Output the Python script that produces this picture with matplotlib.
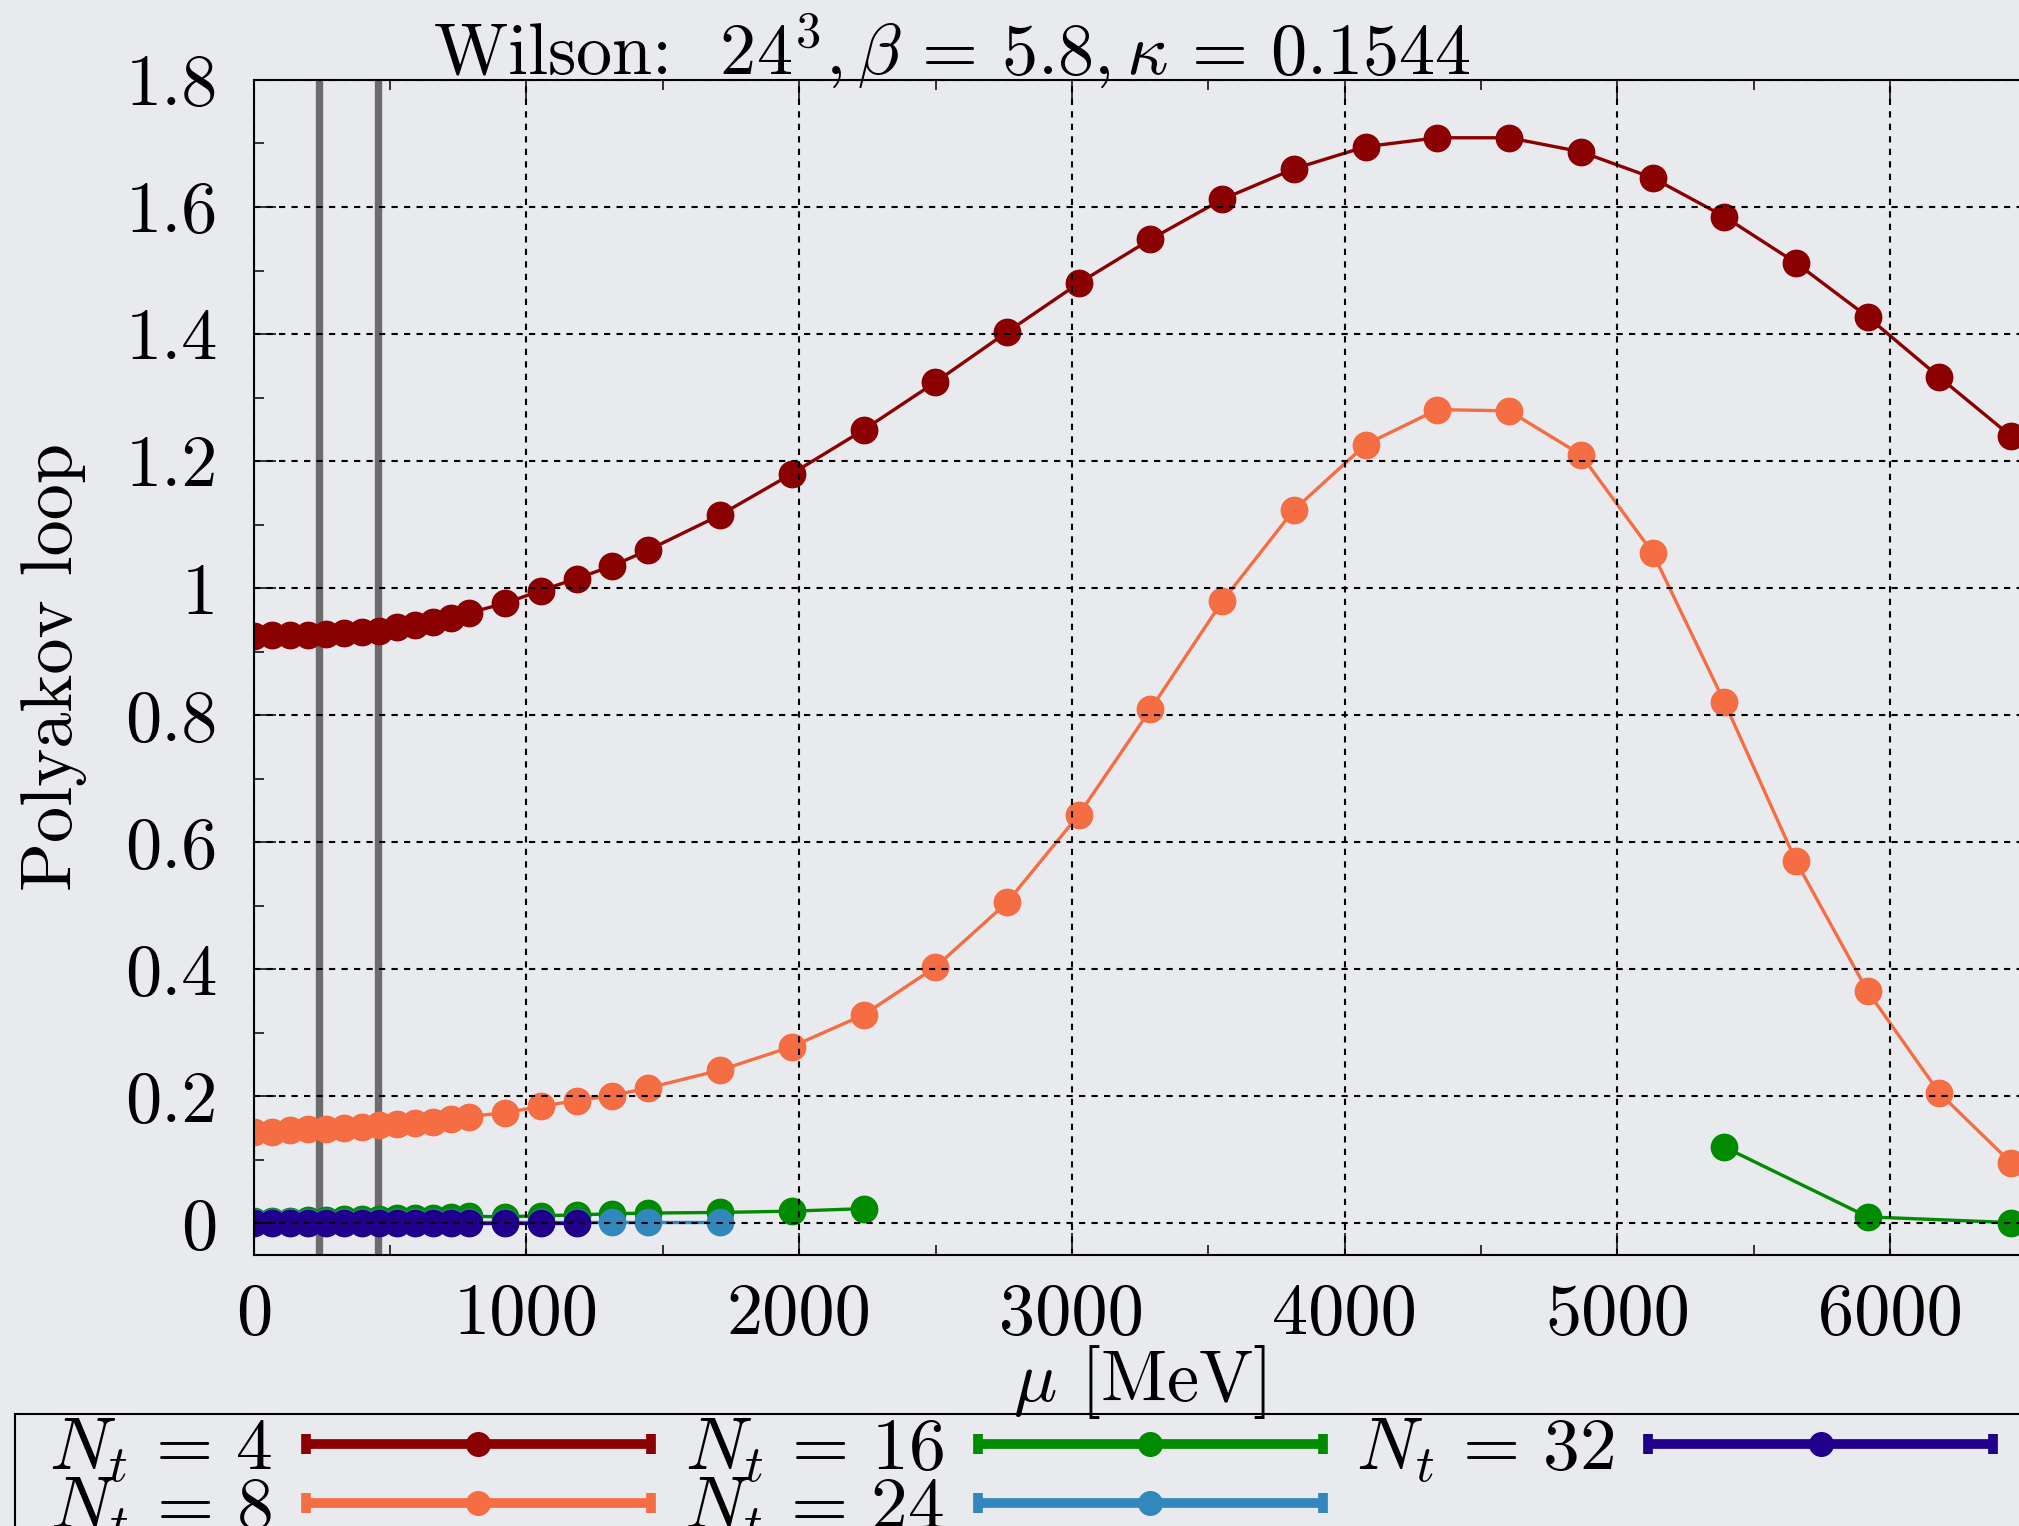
import numpy as np
import matplotlib
matplotlib.use('Agg')
import matplotlib.pyplot as plt
from matplotlib.lines import Line2D
from matplotlib.patches import Rectangle
from matplotlib.collections import LineCollection
from matplotlib.container import ErrorbarContainer
from matplotlib.legend_handler import HandlerErrorbar
from matplotlib.ticker import MultipleLocator, FuncFormatter

plt.rcParams['font.family'] = 'serif'
plt.rcParams['font.serif'] = ['cmr10']
plt.rcParams['mathtext.fontset'] = 'cm'
plt.rcParams['axes.unicode_minus'] = False
plt.rcParams['axes.formatter.use_mathtext'] = True

# chemical potential in MeV
mu = [0, 66, 132, 197, 263, 329, 395, 460, 526, 592, 658, 723, 789,
      921, 1052, 1184, 1315, 1447, 1710, 1973, 2236, 2499, 2762, 3025,
      3288, 3551, 3814, 4077, 4340, 4603, 4866, 5129, 5392, 5655, 5918,
      6181, 6444]

ploop_nt4 = [0.925, 0.926, 0.926, 0.926, 0.927, 0.929, 0.931, 0.933, 0.938,
             0.942, 0.947, 0.953, 0.961, 0.976, 0.996, 1.015, 1.035, 1.060,
             1.115, 1.180, 1.249, 1.324, 1.403, 1.480, 1.549, 1.612, 1.660,
             1.695, 1.709, 1.709, 1.687, 1.646, 1.585, 1.512, 1.427, 1.332,
             1.239]

ploop_nt8 = [0.144, 0.144, 0.146, 0.148, 0.148, 0.150, 0.152, 0.154, 0.156,
             0.158, 0.160, 0.164, 0.168, 0.174, 0.184, 0.193, 0.201, 0.213,
             0.241, 0.278, 0.328, 0.403, 0.505, 0.643, 0.809, 0.979, 1.123,
             1.226, 1.281, 1.279, 1.210, 1.056, 0.821, 0.570, 0.365, 0.205,
             0.095]

# Nt=16 has two separate runs (low and high mu)
mu_nt16_lo = mu[:21]
ploop_nt16_lo = [0.004, 0.004, 0.004, 0.005, 0.005, 0.006, 0.006, 0.007,
                 0.008, 0.008, 0.009, 0.010, 0.011, 0.010, 0.012, 0.013,
                 0.015, 0.016, 0.017, 0.019, 0.023]
mu_nt16_hi = [5392, 5918, 6444]
ploop_nt16_hi = [0.120, 0.010, 0.001]

mu_nt24 = mu[:19]
ploop_nt24 = [0.002] * 19

mu_nt32 = mu[:16]
ploop_nt32 = [0.000] * 16

# reference scales marked as vertical lines
mu_marks = [238, 455]

colors = {4: '#8b0000', 8: '#f46d43', 16: '#008b00', 24: '#3288bd', 32: '#20008a'}
bg = '#e9eaee'
fs = 52

fig = plt.figure(figsize=(20.19, 15.26), dpi=100, facecolor=bg)
ax = fig.add_axes([0.1257, 0.1776, 0.9455, 0.770])
ax.set_facecolor(bg)

for m in mu_marks:
    ax.axvline(m, color='#6c6c6c', lw=5.3, zorder=1)

style = dict(lw=2.4, marker='o', ms=19, zorder=2)
ax.plot(mu, ploop_nt4, color=colors[4], **style)
ax.plot(mu, ploop_nt8, color=colors[8], **style)
ax.plot(mu_nt16_lo, ploop_nt16_lo, color=colors[16], **style)
ax.plot(mu_nt16_hi, ploop_nt16_hi, color=colors[16], **style)
ax.plot(mu_nt24, ploop_nt24, color=colors[24], **style)
ax.plot(mu_nt32, ploop_nt32, color=colors[32], **style)

ax.set_xlim(0, 7000)
ax.set_ylim(-0.05, 1.8)
ax.xaxis.set_major_locator(MultipleLocator(1000))
ax.xaxis.set_minor_locator(MultipleLocator(500))
ax.yaxis.set_major_locator(MultipleLocator(0.2))
ax.yaxis.set_minor_locator(MultipleLocator(0.1))
fmt = FuncFormatter(lambda v, p: '%g' % round(v, 6))
ax.xaxis.set_major_formatter(fmt)
ax.yaxis.set_major_formatter(fmt)
ax.tick_params(which='both', direction='in', top=True, right=True,
               width=1.1, labelsize=fs)
ax.tick_params(which='major', length=16)
ax.tick_params(which='minor', length=7.5)
ax.tick_params(axis='x', pad=20)
ax.tick_params(axis='y', pad=26)
for s in ax.spines.values():
    s.set_linewidth(1.5)

ax.grid(True, which='major', color='black', lw=1.5, ls=(0, (3, 3)), zorder=3)
ax.set_axisbelow(False)

fig.text(952 / 2019, 1 - 75 / 1526,
         r'Wilson:  $24^3, \beta\,=\,5.8, \kappa\,=\,0.1544$',
         fontsize=fs, ha='center', va='baseline')
fig.text(1140 / 2019, 1 - 1401 / 1526, r'$\mu$ [MeV]',
         fontsize=fs, ha='center', va='baseline')
fig.text(54 / 2019, 1 - 667 / 1526, 'Polyakov loop', fontsize=fs,
         rotation=90, ha='center', va='center')

# errorbar-style legend handles
lfs = 53
handles = []
for nt in [4, 8, 16, 24, 32]:
    c = colors[nt]
    line = Line2D([], [], color=c, lw=2.4, marker='o', ms=17)
    cap = Line2D([], [], color=c, marker='|', ms=15, mew=7, ls='none')
    bar = LineCollection([], colors=c, linewidths=7)
    handles.append(ErrorbarContainer((line, (cap, cap), (bar,)), has_xerr=True,
                                     has_yerr=False, label=r'$N_t\,=\,%d$' % nt))

leg = fig.legend(handles=handles, loc='upper left', ncol=3, fontsize=lfs,
                 bbox_to_anchor=(49 / 2019, 1 - 1416 / 1526), borderaxespad=0,
                 markerfirst=False, handlelength=4.69, handletextpad=0.45,
                 columnspacing=0.45, labelspacing=-0.13, borderpad=0,
                 numpoints=1, frameon=False,
                 handler_map={ErrorbarContainer: HandlerErrorbar(xerr_size=2.345)})

# legend box, running off the right and bottom edges
fig.patches.append(Rectangle((15 / 2019, -0.1), 1.0, 0.1 + 1 - 1414 / 1526,
                             transform=fig.transFigure, fill=False,
                             ec='black', lw=1.5))

fig.savefig('out.png', dpi=100, facecolor=bg)
